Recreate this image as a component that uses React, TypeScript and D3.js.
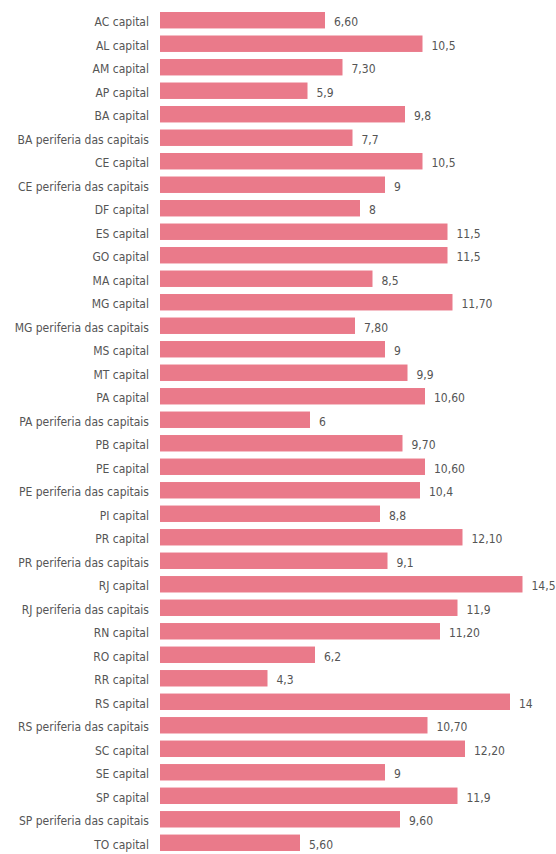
import React from 'react';
import * as d3 from 'd3';

const categories = [
  'AC capital', 'AL capital', 'AM capital', 'AP capital', 'BA capital',
  'BA periferia das capitais', 'CE capital', 'CE periferia das capitais',
  'DF capital', 'ES capital', 'GO capital', 'MA capital', 'MG capital',
  'MG periferia das capitais', 'MS capital', 'MT capital', 'PA capital',
  'PA periferia das capitais', 'PB capital', 'PE capital',
  'PE periferia das capitais', 'PI capital', 'PR capital',
  'PR periferia das capitais', 'RJ capital', 'RJ periferia das capitais',
  'RN capital', 'RO capital', 'RR capital', 'RS capital',
  'RS periferia das capitais', 'SC capital', 'SE capital', 'SP capital',
  'SP periferia das capitais', 'TO capital',
];

const values = [
  6.6, 10.5, 7.3, 5.9, 9.8, 7.7, 10.5, 9, 8, 11.5, 11.5, 8.5, 11.7, 7.8, 9,
  9.9, 10.6, 6, 9.7, 10.6, 10.4, 8.8, 12.1, 9.1, 14.5, 11.9, 11.2, 6.2, 4.3,
  14, 10.7, 12.2, 9, 11.9, 9.6, 5.6,
];

// labels as printed (mixed decimals in the source)
const valueLabels = [
  '6,60', '10,5', '7,30', '5,9', '9,8', '7,7', '10,5', '9', '8', '11,5',
  '11,5', '8,5', '11,70', '7,80', '9', '9,9', '10,60', '6', '9,70', '10,60',
  '10,4', '8,8', '12,10', '9,1', '14,5', '11,9', '11,20', '6,2', '4,3', '14',
  '10,70', '12,20', '9', '11,9', '9,60', '5,60',
];

const WIDTH = 556;
const HEIGHT = 854;
const BAR_X = 160;
const FONT = '"DejaVu Sans", sans-serif';
const BAR_COLOR = '#ea7a8a';
const TEXT_COLOR = '#555';

const App = () => {
  const xScale = d3.scaleLinear().domain([0, 14.5]).range([BAR_X, BAR_X + 362.5]);
  const yScale = d3
    .scaleBand()
    .domain(categories)
    .range([12, 851])
    .paddingInner(0.3)
    .paddingOuter(0);
  const bw = yScale.bandwidth();

  const textProps = {
    fontFamily: FONT,
    fontSize: 12,
    fill: TEXT_COLOR,
    style: { fontStretch: 'condensed' as const },
  };

  return (
    <svg
      width={WIDTH}
      height={HEIGHT}
      style={{ position: 'absolute', left: 0, top: 0, background: '#fff' }}
    >
      {categories.map((c, i) => {
        const y = yScale(c) as number;
        return (
          <g key={c}>
            <text x={149} y={y + bw / 2 + 6} textAnchor="end" {...textProps}>
              {c}
            </text>
            <rect
              x={xScale(0)}
              y={y}
              width={xScale(values[i]) - xScale(0)}
              height={bw}
              fill={BAR_COLOR}
            />
            <text x={xScale(values[i]) + 9} y={y + bw / 2 + 6} {...textProps}>
              {valueLabels[i]}
            </text>
          </g>
        );
      })}
    </svg>
  );
};

export default App;
